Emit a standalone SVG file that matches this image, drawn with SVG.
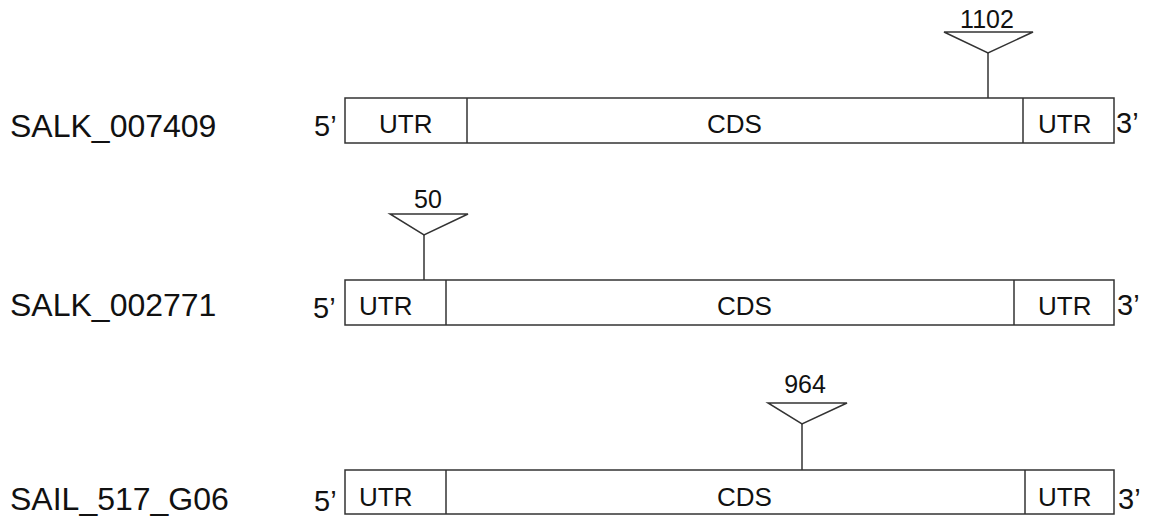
<svg xmlns="http://www.w3.org/2000/svg" width="1151" height="519" viewBox="0 0 1151 519">
  <style>
    .box { fill: #ffffff; stroke: #333333; stroke-width: 1.5; }
    .div { stroke: #333333; stroke-width: 1.5; }
    .ins { fill: #ffffff; stroke: #333333; stroke-width: 1.5; }
    .name { font-family: "Liberation Sans", Arial, sans-serif; font-size: 32px; fill: #111111; }
    .end { font-family: "Liberation Sans", Arial, sans-serif; font-size: 29px; fill: #111111; }
    .seg { font-family: "Liberation Sans", Arial, sans-serif; font-size: 26px; fill: #111111; }
    .pos { font-family: "Liberation Sans", Arial, sans-serif; font-size: 25px; fill: #111111; text-anchor: middle; }
  </style>
  <rect width="1151" height="519" fill="#ffffff"/>

  <!-- SALK_007409: insertion at 1102 in CDS -->
  <g id="salk-007409">
    <text class="name" x="10" y="137">SALK_007409</text>
    <text class="end" x="314" y="136">5’</text>
    <rect class="box" x="345" y="98" width="769" height="45"/>
    <line class="div" x1="467" y1="98" x2="467" y2="143"/>
    <line class="div" x1="1023" y1="98" x2="1023" y2="143"/>
    <text class="seg" x="379" y="133">UTR</text>
    <text class="seg" x="707" y="133">CDS</text>
    <text class="seg" x="1038" y="133">UTR</text>
    <text class="end" x="1116" y="133">3’</text>
  </g>

  <!-- SALK_002771: insertion at 50 in 5' UTR -->
  <g id="salk-002771">
    <text class="name" x="10" y="316">SALK_002771</text>
    <text class="end" x="313" y="318">5’</text>
    <rect class="box" x="345" y="280" width="769" height="45"/>
    <line class="div" x1="446" y1="280" x2="446" y2="325"/>
    <line class="div" x1="1014" y1="280" x2="1014" y2="325"/>
    <text class="seg" x="359" y="315">UTR</text>
    <text class="seg" x="717" y="315">CDS</text>
    <text class="seg" x="1038" y="315">UTR</text>
    <text class="end" x="1117" y="315">3’</text>
  </g>

  <!-- SAIL_517_G06: insertion at 964 in CDS -->
  <g id="sail-517-g06">
    <text class="name" x="10" y="510">SAIL_517_G06</text>
    <text class="end" x="314" y="511">5’</text>
    <rect class="box" x="345" y="470" width="769" height="44"/>
    <line class="div" x1="446" y1="470" x2="446" y2="514"/>
    <line class="div" x1="1025" y1="470" x2="1025" y2="514"/>
    <text class="seg" x="359" y="506">UTR</text>
    <text class="seg" x="717" y="506">CDS</text>
    <text class="seg" x="1038" y="506">UTR</text>
    <text class="end" x="1118" y="509">3’</text>
  </g>

  <!-- T-DNA insertion markers -->
  <g id="insertions">
    <g id="ins-1102">
      <line class="div" x1="988" y1="53" x2="988" y2="98"/>
      <polygon class="ins" points="944,32 1033,32 988,53"/>
      <text class="pos" x="987" y="28">1102</text>
    </g>
    <g id="ins-50">
      <line class="div" x1="424" y1="235" x2="424" y2="280"/>
      <polygon class="ins" points="390,214 468,214 424,235"/>
      <text class="pos" x="428" y="208">50</text>
    </g>
    <g id="ins-964">
      <line class="div" x1="802" y1="424" x2="802" y2="470"/>
      <polygon class="ins" points="768,403 847,403 802,424"/>
      <text class="pos" x="805" y="393">964</text>
    </g>
  </g>
</svg>
